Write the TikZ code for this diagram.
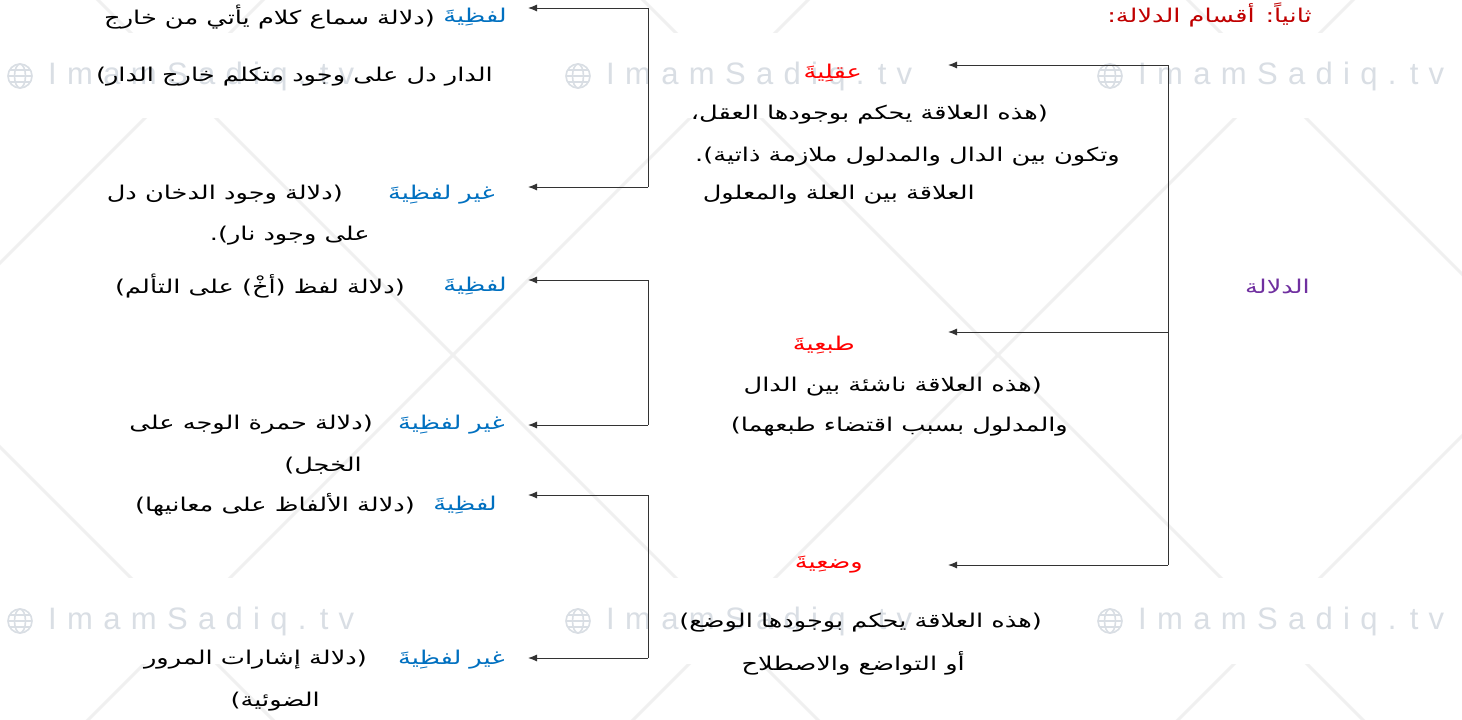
\documentclass[tikz,border=0pt]{standalone}
\usepackage{fontspec}
\setmainfont{DejaVu Sans}
\newfontfamily\arfont[Script=Arabic, FakeStretch=1.35]{DejaVu Sans}
\newfontfamily\wmfont[WordSpace=1.2]{Liberation Sans}
\TeXXeTstate=1
\usetikzlibrary{arrows.meta}
\definecolor{hred}{HTML}{FF0000}
\definecolor{tred}{HTML}{C00000}
\definecolor{lblue}{HTML}{0070C0}
\definecolor{lpurple}{HTML}{7030A0}
\definecolor{wmgray}{HTML}{D9DEE4}
\definecolor{diaggray}{HTML}{F0F0F0}
\tikzset{
  artext/.style={font=\arfont\fontsize{19}{22}\selectfont, inner sep=0pt, anchor=east},
  bodytext/.style={artext, text=black},
  headtext/.style={artext, text=hred},
  kindtext/.style={artext, text=lblue},
  conn/.style={draw=black!80, line width=1pt},
  arr/.style={conn, -{Latex[length=9pt,width=7pt]}},
  wmtext/.style={font=\wmfont\fontsize{31}{31}\selectfont, text=wmgray, inner sep=0pt, anchor=west},
  diagline/.style={draw=diaggray, line width=3pt},
}
\newcommand{\wmglobe}[1]{%
  \begin{scope}[shift={#1}, draw=wmgray, line width=1.6pt]
    \draw (0,0) circle (12);
    \draw (0,0) ellipse (5.5 and 12);
    \draw (-12,0) -- (12,0);
    \draw (-10.5,-6) -- (10.5,-6);
    \draw (-10.5,6) -- (10.5,6);
  \end{scope}}
\begin{document}
\begin{tikzpicture}[x=1pt,y=-1pt]
\useasboundingbox (0,0) rectangle (1462,720);
\fill[white] (0,0) rectangle (1462,720);
% watermark diagonal lattice
\begin{scope}
  \clip (0,0) rectangle (1462,720);
  \foreach \c in {-1188,-643,-98,447}{
    \draw[diagline] (-800,-800+\c) -- (2200,2200+\c);
  }
  \foreach \c in {263,808,1353,1898}{
    \draw[diagline] (\c+800,-800) -- (\c-2000,2000);
  }
\end{scope}
\fill[white] (0,33) rectangle (1462,118);
\fill[white] (0,578) rectangle (1462,664);
% watermark text
\foreach \wx in {20,578,1110}{
  \foreach \wy in {76,621}{
    \wmglobe{(\wx,\wy)}
    \node[wmtext] (wm\wx-\wy) at (\wx+28,\wy) {I m a m S a d i q . t v};
  }
}
% title and root
\node[artext, text=tred] (title) at (1312,15) {\beginR ثانياً: أقسام الدلالة:\endR};
\node[artext, text=lpurple] (root) at (1310,286) {\beginR الدلالة\endR};
% right bracket
\coordinate (rtop) at (1168,65);
\coordinate (rmid) at (1168,332);
\coordinate (rbot) at (1168,565);
\coordinate (taql) at (948,65);
\coordinate (ttab) at (948,332);
\coordinate (twad) at (948,565);
\draw[conn] (rtop) -- (rbot);
\draw[arr] (rtop) -- (taql);
\draw[arr] (rmid) -- (ttab);
\draw[arr] (rbot) -- (twad);
% middle column
\node[headtext] (aqli) at (862,73) {\beginR عقلِيةَ\endR};
\node[bodytext] (aq1) at (1048,115) {\beginR (هذه العلاقة يحكم بوجودها العقل،\endR};
\node[bodytext] (aq2) at (1120,157) {\beginR وتكون بين الدال والمدلول ملازمة ذاتية).\endR};
\node[bodytext] (aq3) at (975,195) {\beginR العلاقة بين العلة والمعلول\endR};
\node[headtext] (tabi) at (855,345) {\beginR طبعِيةَ\endR};
\node[bodytext] (tb1) at (1042,387) {\beginR (هذه العلاقة ناشئة بين الدال\endR};
\node[bodytext] (tb2) at (1068,427) {\beginR والمدلول بسبب اقتضاء طبعهما)\endR};
\node[headtext] (wadi) at (863,565) {\beginR وضعِيةَ\endR};
\node[bodytext] (wd1) at (1042,623) {\beginR (هذه العلاقة يحكم بوجودها الوضع)\endR};
\node[bodytext] (wd2) at (965,663) {\beginR أو التواضع والاصطلاح\endR};
% left brackets
\foreach \n/\ya/\yb in {a/8/187, b/280/425, c/495/658}{
  \coordinate (\n top) at (648,\ya);
  \coordinate (\n bot) at (648,\yb);
  \coordinate (\n tipa) at (528,\ya);
  \coordinate (\n tipb) at (528,\yb);
  \draw[conn] (\n top) -- (\n bot);
  \draw[arr] (\n top) -- (\n tipa);
  \draw[arr] (\n bot) -- (\n tipb);
}
% left texts
\node[kindtext] (k1) at (507,17) {\beginR لفظِيةَ\endR};
\node[bodytext] (e1a) at (435,17) {\beginR (دلالة سماع كلام يأتي من خارج\endR};
\node[bodytext] (e1b) at (493,77) {\beginR الدار دل على وجود متكلم خارج الدار)\endR};
\node[kindtext] (k2) at (495,195) {\beginR غير لفظِيةَ\endR};
\node[bodytext] (e2a) at (343,195) {\beginR (دلالة وجود الدخان دل\endR};
\node[bodytext] (e2b) at (370,236) {\beginR على وجود نار).\endR};
\node[kindtext] (k3) at (507,286) {\beginR لفظِيةَ\endR};
\node[bodytext] (e3a) at (405,286) {\beginR (دلالة لفظ (أخْ) على التألم)\endR};
\node[kindtext] (k4) at (505,425) {\beginR غير لفظِيةَ\endR};
\node[bodytext] (e4a) at (373,425) {\beginR (دلالة حمرة الوجه على\endR};
\node[bodytext] (e4b) at (362,466) {\beginR الخجل)\endR};
\node[kindtext] (k5) at (497,505) {\beginR لفظِيةَ\endR};
\node[bodytext] (e5a) at (415,505) {\beginR (دلالة الألفاظ على معانيها)\endR};
\node[kindtext] (k6) at (505,660) {\beginR غير لفظِيةَ\endR};
\node[bodytext] (e6a) at (367,660) {\beginR (دلالة إشارات المرور\endR};
\node[bodytext] (e6b) at (320,702) {\beginR الضوئية)\endR};
\end{tikzpicture}
\end{document}
